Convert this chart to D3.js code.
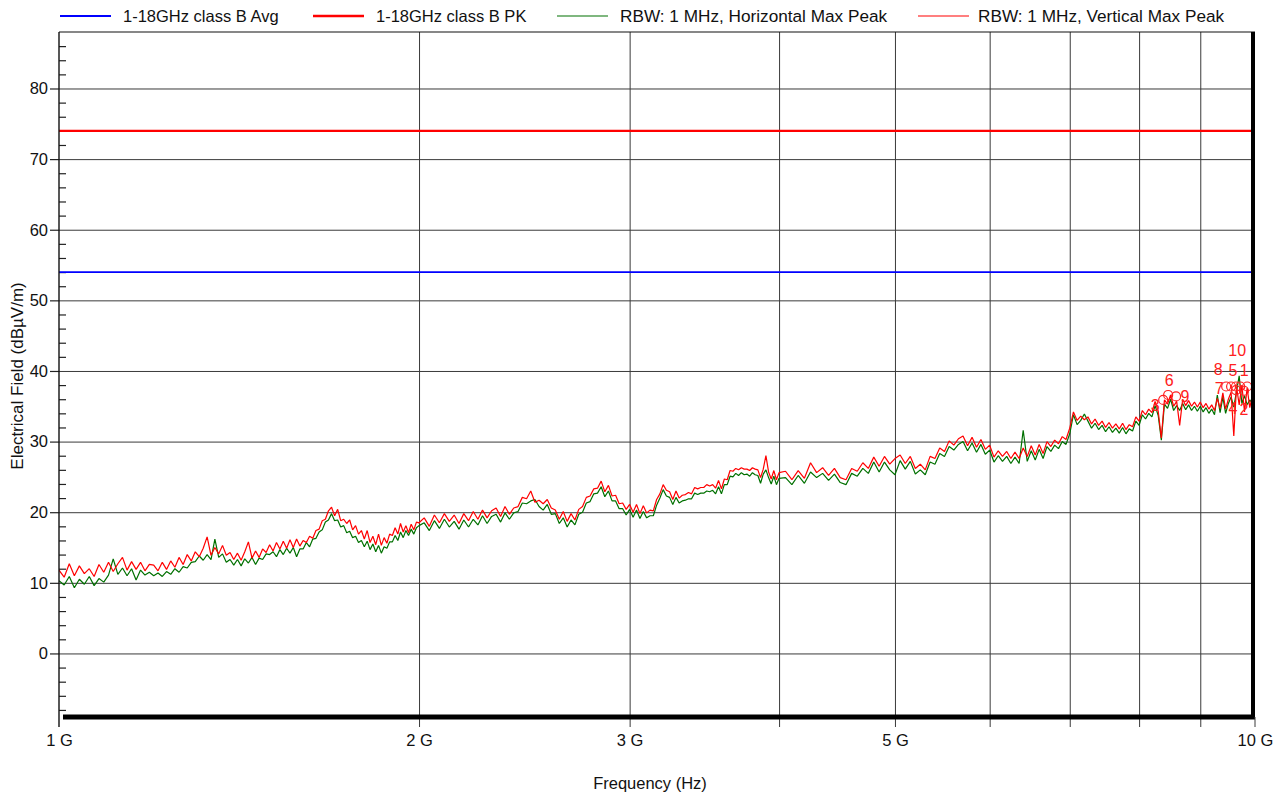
<!DOCTYPE html>
<html>
<head>
<meta charset="utf-8">
<script src="https://cdn.jsdelivr.net/npm/d3@7/dist/d3.min.js"></script>
<style>
  body { margin: 0; background: #fff; }
  text { font-family: "Liberation Sans", Arial, sans-serif; fill: #111; }
  .axis path.domain { display: none; }
</style>
</head>
<body>
<svg id="chart" width="1285" height="798"></svg>
<script>
// ---- data (frequency in GHz, level in dBuV/m) ----
let freqA = [1.00,1.01,1.02,1.03,1.04,1.05,1.06,1.07,1.08,1.09,
  1.10,1.11,1.12,1.13,1.14,1.15,1.16,1.17,1.18,1.19,
  1.20,1.21,1.22,1.23,1.24,1.25,1.26,1.27,1.28,1.29,
  1.30,1.31,1.32,1.33,1.34,1.35,1.36,1.37,1.38,1.39,
  1.40,1.41,1.42,1.43,1.44,1.45,1.46,1.47,1.48,1.49,
  1.50,1.51,1.52,1.53,1.54,1.55,1.56,1.57,1.58,1.59,
  1.60,1.61,1.62,1.63,1.64,1.65,1.66,1.67,1.68,1.69,
  1.70,1.71,1.72,1.73,1.74,1.75,1.76,1.77,1.78,1.79,
  1.80,1.81,1.82,1.83,1.84,1.85,1.86,1.87,1.88,1.89,
  1.90,1.91,1.92,1.93,1.94,1.95,1.96,1.97,1.98,1.99,2.00];
let freqB = [2.02,2.04,2.06,2.08,2.10,2.12,2.14,2.16,2.18,2.20,
  2.22,2.24,2.26,2.28,2.30,2.32,2.34,2.36,2.38,2.40,
  2.42,2.44,2.46,2.48,2.50,2.52,2.54,2.56,2.58,2.60,
  2.62,2.64,2.66,2.68,2.70,2.72,2.74,2.76,2.78,2.80,
  2.82,2.84,2.86,2.88,2.90,2.92,2.94,2.96,2.98,3.00,
  3.02,3.04,3.06,3.08,3.10,3.12,3.14,3.16,3.18,3.20,
  3.22,3.24,3.26,3.28,3.30,3.32,3.34,3.36,3.38,3.40,
  3.42,3.44,3.46,3.48,3.50,3.52,3.54,3.56,3.58,3.60,
  3.62,3.64,3.66,3.68,3.70,3.72,3.74,3.76,3.78,3.80,
  3.82,3.84,3.86,3.88,3.90,3.92,3.94,3.96,3.98,4.00];
let freqC = [4.05,4.10,4.15,4.20,4.25,4.30,4.35,4.40,4.45,4.50,
  4.55,4.60,4.65,4.70,4.75,4.80,4.85,4.90,4.95,5.00,
  5.05,5.10,5.15,5.20,5.25,5.30,5.35,5.40,5.45,5.50,
  5.55,5.60,5.65,5.70,5.75,5.80,5.85,5.90,5.95,6.00,
  6.05,6.10,6.15,6.20,6.25,6.30,6.35,6.40,6.45,6.50,
  6.55,6.60,6.65,6.70,6.75,6.80,6.85,6.90,6.95,7.00,
  7.05,7.10,7.15,7.20,7.25,7.30,7.35,7.40,7.45,7.50,
  7.55,7.60,7.65,7.70,7.75,7.80,7.85,7.90,7.95,8.00,
  8.05,8.10,8.15,8.20,8.25,8.30,8.35,8.40,8.45,8.50,
  8.55,8.60,8.65,8.70,8.75,8.80,8.85,8.90,8.95,9.00,
  9.05,9.10,9.15,9.20,9.25,9.30,9.35,9.40,9.45,9.50,
  9.55,9.60,9.65,9.70,9.75,9.80,9.85,9.90,9.95,10.00];

// RBW 1 MHz, vertical max peak (red)
let vertPeak = [
  11.8,10.8,12.7,11.0,12.4,11.3,12.0,10.9,12.6,11.5,
  12.9,11.6,12.7,13.6,11.8,13.0,11.9,12.9,11.7,12.6,
  12.5,11.7,12.9,11.9,13.1,12.2,13.6,12.6,14.0,13.1,
  14.4,13.7,14.9,16.5,13.9,15.0,14.1,15.3,13.9,14.3,
  13.3,14.2,13.2,14.4,15.8,13.5,14.5,13.6,14.8,14.3,
  15.4,14.5,15.7,14.8,15.9,14.9,16.1,15.0,16.2,15.2,
  16.0,15.7,16.6,16.3,17.4,17.6,18.8,19.0,20.2,20.7,
  19.5,20.4,18.8,19.0,18.4,18.9,17.5,18.1,16.9,17.4,
  16.2,17.4,15.7,16.6,15.4,16.9,15.3,16.4,15.6,16.9,
  16.7,17.8,16.9,18.4,17.2,18.1,17.1,18.3,17.5,18.6,18.5,
  19.2,18.0,19.6,18.5,19.8,18.7,19.6,18.4,19.8,18.8,
  20.1,19.0,20.3,19.2,20.2,20.6,19.4,20.8,19.7,20.6,
  20.8,22.1,21.9,23.0,21.4,21.7,21.2,21.8,20.6,20.3,
  19.0,20.1,18.7,19.8,18.9,20.4,20.8,22.1,22.3,23.3,
  23.4,24.4,22.9,23.8,22.3,22.4,21.2,21.3,20.4,21.1,
  20.0,21.1,19.8,20.9,19.9,20.3,20.2,21.8,22.6,23.9,
  23.1,22.9,21.8,23.0,22.0,22.4,22.5,22.8,22.6,23.5,
  23.3,23.5,23.5,23.9,23.7,23.9,23.4,24.5,23.3,24.7,
  24.6,25.9,25.8,26.2,26.0,26.3,26.1,26.1,25.9,26.3,
  26.1,26.0,24.9,26.1,28.0,25.7,24.7,25.9,24.6,25.6,
  25.8,24.6,25.9,24.8,27.0,25.6,26.3,25.2,26.2,24.9,
  24.6,26.2,25.8,27.0,26.2,27.8,26.5,27.9,26.8,27.6,
  28.1,26.9,27.9,26.2,26.8,26.0,27.9,27.6,29.1,28.6,
  30.1,29.5,30.4,30.8,29.4,30.6,29.2,30.3,28.9,29.5,
  27.8,28.7,27.9,28.6,27.6,28.5,27.6,29.1,27.9,29.4,
  28.1,29.6,28.3,30.0,29.3,30.2,29.7,30.7,30.3,31.9,
  34.2,33.0,33.6,33.1,33.5,32.5,33.2,32.3,32.9,32.0,
  32.7,31.9,32.5,31.8,32.6,31.7,32.4,32.1,33.5,32.9,
  34.4,33.8,34.6,34.1,35.7,34.3,30.5,35.9,35.3,36.6,
  35.0,35.7,32.3,36.0,35.1,35.8,35.0,35.6,34.9,35.6,
  34.8,35.4,34.6,35.2,34.4,36.1,34.7,36.9,34.6,36.0,
  37.0,30.8,37.8,35.2,38.0,34.2,37.6,34.8,36.5,35.6];

// RBW 1 MHz, horizontal max peak (green)
let horzPeak = [
  10.3,9.7,10.9,9.3,10.5,9.8,10.9,9.6,10.6,10.1,
  11.1,13.4,11.2,12.1,11.0,12.0,10.4,11.8,11.1,11.5,
  11.0,11.4,10.9,11.6,11.2,12.0,11.5,12.3,12.1,12.9,
  13.0,13.8,13.2,14.0,13.3,16.2,13.6,14.1,12.9,13.3,
  12.5,13.3,12.4,13.4,12.8,13.6,12.6,13.5,13.3,14.1,
  14.0,14.4,13.7,14.7,14.0,14.9,14.2,15.0,13.7,14.8,
  14.8,15.7,15.1,16.2,16.3,17.2,17.5,18.6,18.9,19.8,
  18.8,18.9,17.9,18.1,17.1,17.3,16.4,16.6,15.7,16.0,
  15.1,15.9,14.7,15.5,14.4,15.3,14.2,15.1,14.9,15.8,
  15.8,16.7,16.0,17.2,16.4,17.4,16.7,17.6,16.9,17.8,18.1,
  18.5,17.4,18.8,17.7,19.0,17.9,18.7,17.6,18.9,17.9,
  19.0,18.2,19.5,18.4,19.4,19.7,18.6,19.9,19.0,19.9,
  20.1,21.3,21.2,21.6,21.8,20.8,20.3,21.1,19.7,19.8,
  18.4,19.2,17.9,18.9,18.2,19.7,20.0,21.3,21.5,22.6,
  22.7,23.6,22.2,23.0,21.6,21.6,20.5,20.5,19.6,20.4,
  19.3,20.3,19.1,20.1,19.2,19.5,19.5,21.0,22.0,23.2,
  22.3,22.1,21.1,22.1,21.3,21.6,21.7,21.9,21.9,22.7,
  22.5,22.7,22.7,23.0,22.9,23.1,22.6,23.6,22.6,23.9,
  23.9,25.1,25.0,25.5,25.2,25.6,25.3,25.4,25.1,25.6,
  25.3,25.2,24.1,25.4,26.0,24.9,24.0,25.1,23.9,24.8,
  24.9,23.9,25.2,24.1,25.7,24.9,25.5,24.5,25.4,24.2,
  23.9,25.5,25.1,26.2,25.5,27.1,25.7,27.1,26.0,25.3,
  27.3,26.1,27.2,25.4,26.0,25.3,27.1,26.8,28.3,27.9,
  29.3,28.8,29.6,30.0,28.7,29.8,28.5,29.6,28.2,28.8,
  27.1,28.0,27.2,27.9,26.9,27.8,26.9,31.6,27.2,28.7,
  27.4,28.9,27.6,29.3,28.6,29.5,29.0,30.0,29.6,31.1,
  33.8,32.4,33.0,33.9,32.9,31.9,32.6,31.7,32.3,31.4,
  32.1,31.3,31.9,31.2,32.0,31.1,31.8,31.5,32.9,32.3,
  33.8,33.2,34.0,33.5,35.1,33.7,30.2,35.3,34.7,36.0,
  34.4,35.1,34.4,35.4,34.5,35.2,34.4,35.0,34.3,35.0,
  34.2,34.8,34.0,34.6,33.8,36.6,34.1,36.3,34.0,35.4,
  36.3,34.9,37.1,39.3,35.4,36.5,35.2,35.9,35.4,35.6];

// limit lines
let limitAvg = 54;
let limitPk = 74;

// markers
let markerNo = [1, 2, 3, 4, 5, 6, 7, 8, 9, 10];
let markerFreq = [9.85, 9.79, 8.38, 9.64, 9.64, 8.46, 9.55, 9.46, 8.59, 9.72];
let markerLevel = [37.8, 37.2, 35.9, 37.3, 37.8, 36.6, 37.8, 37.8, 36.4, 37.8];
// label offsets from the circle (px)
let markerDx = [-3, 0, -8, -3, -3, 1, -12, -8, 9, -3];
let markerDy = [-16, 18, 5, 18, -16, -15, 2, -17, 0, -36];

// axis ticks
let yMajor = [0, 10, 20, 30, 40, 50, 60, 70, 80];
let yMinor = [-8,-6,-4,-2,2,4,6,8,12,14,16,18,22,24,26,28,32,34,36,38,42,44,46,48,52,54,56,58,62,64,66,68,72,74,76,78,82,84,86];
let xGridGHz = [2, 3, 4, 5, 6, 7, 8, 9];
let xLabelGHz = [1, 2, 3, 5, 10];

let legendNames = ["1-18GHz class B Avg", "1-18GHz class B PK", "RBW: 1 MHz, Horizontal Max Peak", "RBW: 1 MHz, Vertical Max Peak"];
let legendColors = ["#0000ff", "#ff0000", "#007000", "#ff0000"];
let legendWidths = [2, 2.5, 1.2, 1.2];

// ---- drawing ----
const svg = d3.select("#chart");
const pLeft = 59, pRight = 1255, pTop = 32, pBottom = 717;
const x = d3.scaleLog().domain([1e9, 1e10]).range([pLeft, pRight]);
const y = d3.scaleLinear().domain([-9, 88]).range([pBottom, pTop]);

const freqAll = freqA.concat(freqB, freqC);

// horizontal grid
svg.append("g").attr("class", "axis")
  .attr("transform", `translate(${pLeft},0)`)
  .call(d3.axisRight(y).tickValues(yMajor).tickSize(pRight - 2 - pLeft).tickFormat(""))
  .selectAll("line").attr("stroke", "#3a3a3a").attr("stroke-width", 1);

// vertical grid (extends below axis as ticks)
svg.append("g").attr("class", "axis")
  .attr("transform", `translate(0,${pBottom + 10})`)
  .call(d3.axisBottom(x).tickValues(xGridGHz.map(d => d * 1e9)).tickSize(-(pBottom + 10 - pTop)).tickFormat(""))
  .selectAll("line").attr("stroke", "#3a3a3a").attr("stroke-width", 1);

// y labels + major ticks (outside)
const yAx = svg.append("g").attr("class", "axis")
  .attr("transform", `translate(${pLeft},0)`)
  .call(d3.axisLeft(y).tickValues(yMajor).tickSize(9).tickPadding(2));
yAx.selectAll("line").attr("stroke", "#222").attr("stroke-width", 1.2);
yAx.selectAll("text").attr("font-size", 16.5).attr("font-family", "Liberation Sans, Arial, sans-serif").attr("fill", "#111");

// y minor ticks (inside)
svg.append("g").attr("class", "axis")
  .attr("transform", `translate(${pLeft},0)`)
  .call(d3.axisRight(y).tickValues(yMinor).tickSize(7).tickFormat(""))
  .selectAll("line").attr("stroke", "#222").attr("stroke-width", 1.2);

// x labels
const xAx = svg.append("g").attr("class", "axis")
  .attr("transform", `translate(0,${pBottom})`)
  .call(d3.axisBottom(x).tickValues(xLabelGHz.map(d => d * 1e9)).tickSize(0).tickPadding(17)
    .tickFormat(d => (d / 1e9) + " G"));
xAx.selectAll("text").attr("font-size", 16.5).attr("font-family", "Liberation Sans, Arial, sans-serif").attr("fill", "#111");

// clip
svg.append("clipPath").attr("id", "plotclip")
  .append("rect").attr("x", pLeft).attr("y", pTop).attr("width", pRight - pLeft).attr("height", pBottom - pTop);

// limit lines
svg.append("line").attr("x1", pLeft).attr("x2", pRight - 2)
  .attr("y1", y(limitAvg)).attr("y2", y(limitAvg))
  .attr("stroke", "#0000ff").attr("stroke-width", 1.6);
svg.append("line").attr("x1", pLeft).attr("x2", pRight - 2)
  .attr("y1", y(limitPk)).attr("y2", y(limitPk))
  .attr("stroke", "#ff0000").attr("stroke-width", 2.2);

// traces
const line = d3.line().x((d, i) => x(freqAll[i] * 1e9)).y(d => y(d));
const traces = svg.append("g").attr("clip-path", "url(#plotclip)");
traces.append("path").datum(horzPeak).attr("d", line)
  .attr("fill", "none").attr("stroke", "#007000").attr("stroke-width", 1.2).attr("stroke-linejoin", "bevel");
traces.append("path").datum(vertPeak).attr("d", line)
  .attr("fill", "none").attr("stroke", "#ff0000").attr("stroke-width", 1.2).attr("stroke-linejoin", "bevel");

// markers
const mk = svg.append("g").selectAll("g").data(markerNo).join("g");
mk.append("circle")
  .attr("cx", (d, i) => x(markerFreq[i] * 1e9))
  .attr("cy", (d, i) => y(markerLevel[i]))
  .attr("r", 4.5).attr("fill", "none").attr("stroke", "#ff2020").attr("stroke-width", 1.2);
mk.append("text")
  .attr("x", (d, i) => x(markerFreq[i] * 1e9) + markerDx[i])
  .attr("y", (d, i) => y(markerLevel[i]) + markerDy[i])
  .attr("dy", "0.36em").attr("text-anchor", "middle")
  .attr("font-size", 16).style("fill", "#ff2020")
  .text(d => d);

// frame
svg.append("line").attr("x1", pLeft).attr("x2", pRight).attr("y1", pTop).attr("y2", pTop)
  .attr("stroke", "#111").attr("stroke-width", 1.2);
svg.append("line").attr("x1", pLeft).attr("x2", pLeft).attr("y1", pTop).attr("y2", pBottom + 10)
  .attr("stroke", "#111").attr("stroke-width", 1.4);
svg.append("line").attr("x1", pLeft + 4).attr("x2", pRight).attr("y1", pBottom).attr("y2", pBottom)
  .attr("stroke", "#000").attr("stroke-width", 5);
svg.append("line").attr("x1", pRight - 2).attr("x2", pRight - 2).attr("y1", pTop).attr("y2", pBottom + 2)
  .attr("stroke", "#000").attr("stroke-width", 4);
svg.append("line").attr("x1", pRight).attr("x2", pRight).attr("y1", pBottom).attr("y2", pBottom + 10)
  .attr("stroke", "#3a3a3a").attr("stroke-width", 1);

// legend
const legendX = [60, 313, 557, 918];
const legendFont = [16.5, 16.5, 17.2, 17.2];
const lg = svg.append("g").selectAll("g").data(legendNames).join("g")
  .attr("transform", (d, i) => `translate(${legendX[i]},16)`);
lg.append("line").attr("x1", 0).attr("x2", 51)
  .attr("stroke", (d, i) => legendColors[i]).attr("stroke-width", (d, i) => legendWidths[i]);
lg.append("text").attr("x", (d, i) => i === 3 ? 60 : 63).attr("dy", "0.36em")
  .attr("font-size", (d, i) => legendFont[i]).text(d => d);

// axis titles
svg.append("text").attr("x", 650).attr("y", 783).attr("dy", "0.36em")
  .attr("text-anchor", "middle").attr("font-size", 16.5).text("Frequency (Hz)");
svg.append("text").attr("transform", "translate(17,376) rotate(-90)").attr("dy", "0.36em")
  .attr("text-anchor", "middle").attr("font-size", 17).text("Electrical Field (dBµV/m)");
</script>
</body>
</html>
